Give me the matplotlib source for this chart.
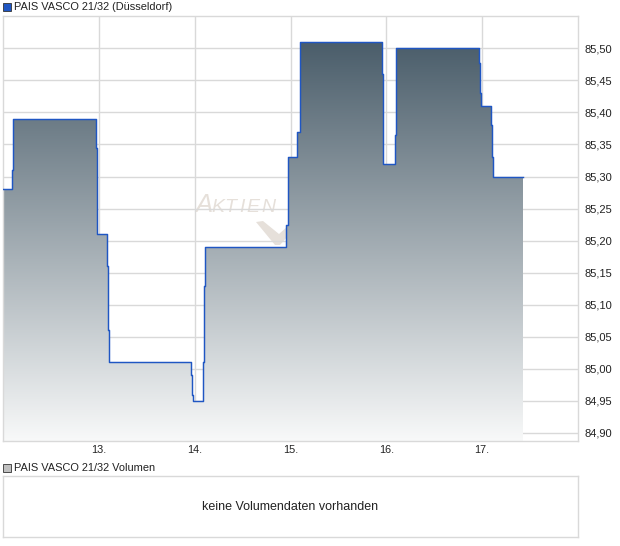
import matplotlib
matplotlib.use("Agg")
import matplotlib.pyplot as plt
import numpy as np
from matplotlib.colors import LinearSegmentedColormap
from matplotlib.patches import Rectangle, Polygon

plt.rcParams["font.family"] = ["Liberation Sans", "DejaVu Sans"]

# step points: time (day position) and price held from that time on
times = [12.000, 12.094, 12.104, 12.969, 12.979, 12.984, 13.083, 13.094, 13.104,
         13.958, 13.969, 13.979, 14.083, 14.094, 14.104, 14.958, 14.969, 14.979,
         15.073, 15.094, 15.104, 15.958, 15.969, 16.094, 16.100, 16.104, 16.969,
         16.979, 16.990, 17.094, 17.104, 17.115, 17.427]
prices = [85.28, 85.31, 85.39, 85.345, 85.255, 85.21, 85.16, 85.06, 85.01,
          84.99, 84.96, 84.95, 85.01, 85.13, 85.19, 85.225, 85.29, 85.33,
          85.37, 85.46, 85.51, 85.46, 85.32, 85.365, 85.455, 85.50, 85.477,
          85.43, 85.41, 85.38, 85.33, 85.30, 85.30]

day_ticks = [13, 14, 15, 16, 17]
day_labels = ["13.", "14.", "15.", "16.", "17."]
price_ticks = [84.90, 84.95, 85.00, 85.05, 85.10, 85.15, 85.20, 85.25,
               85.30, 85.35, 85.40, 85.45, 85.50]

title = "PAIS VASCO 21/32 (Düsseldorf)"
vol_title = "PAIS VASCO 21/32 Volumen"
vol_msg = "keine Volumendaten vorhanden"

W, H = 620, 546
fig = plt.figure(figsize=(W / 100, H / 100), dpi=100)


def px(x, y):
    # pixel position (from top-left) -> figure fraction
    return x / W, (H - y) / H


grid_c = "#d9d9d9"
line_c = "#1f56c3"
text_c = "#222222"
mark_c = "#e6e0da"

ax = fig.add_axes([3 / W, (H - 441) / H, 575 / W, 425 / H])
ax.patch.set_alpha(0)
ymin, ymax = 84.8875, 85.5504
ax.set_xlim(12, 18)
ax.set_ylim(ymin, ymax)

# gradient fill under the step line
xs = np.array(times)
ys = np.array(prices)
poly = ax.fill_between(xs, ys, ymin, step="post", color="none", lw=0)
cmap = LinearSegmentedColormap.from_list("g", ["#f8f9f9", "#4a5d6a"])
grad = np.linspace(0, 1, 256).reshape(-1, 1)
img = ax.imshow(grad, extent=[12, 18, ymin, max(prices)], origin="lower",
                aspect="auto", cmap=cmap, zorder=1)
img.set_clip_path(poly.get_paths()[0], transform=ax.transData)
ax.step(xs, ys, where="post", color=line_c, lw=1.05, zorder=3)

ax.set_xticks(day_ticks)
ax.set_xticklabels(day_labels)
ax.set_yticks(price_ticks)
ax.set_yticklabels([f"{v:.2f}".replace(".", ",") for v in price_ticks])
ax.yaxis.tick_right()
ax.tick_params(axis="both", length=0, colors=text_c)
ax.tick_params(axis="y", pad=5, labelsize=8)
ax.tick_params(axis="x", pad=3, labelsize=7.8)
ax.grid(True, color=grid_c, lw=1, zorder=0)
ax.set_axisbelow(True)
for s in ax.spines.values():
    s.set_color(grid_c)
    s.set_linewidth(1)

# watermark "AKTIEN" with a check mark, behind the chart
fig.text(*px(195, 212), "A", fontsize=18.5, style="italic", color=mark_c,
         va="baseline", zorder=-1)
for ch, xp in zip("KTIEN", [211, 224, 239, 246, 261]):
    fig.text(*px(xp, 212), ch, fontsize=14, style="italic", color=mark_c,
             va="baseline", zorder=-1)
check = [(256, 222), (263, 221), (279, 234), (288, 226), (288, 236),
         (280, 245), (275, 245)]
fig.patches.append(Polygon([px(*p) for p in check], closed=True,
                           transform=fig.transFigure, facecolor=mark_c,
                           edgecolor="none", zorder=-1))

# top legend
fig.patches.append(Rectangle(px(3, 11), 8 / W, 8 / H,
                             transform=fig.transFigure, facecolor=line_c,
                             edgecolor="#333333", lw=0.6))
fig.text(*px(14, 7), title, fontsize=7.9, color=text_c, va="center")

# volume panel
fig.patches.append(Rectangle(px(3, 472), 8 / W, 8 / H,
                             transform=fig.transFigure, facecolor="#c0c0c0",
                             edgecolor="#333333", lw=0.6))
fig.text(*px(14, 468), vol_title, fontsize=7.9, color=text_c, va="center")

vax = fig.add_axes([3 / W, 9 / H, 575 / W, 61 / H])
vax.set_xticks([])
vax.set_yticks([])
for s in vax.spines.values():
    s.set_color(grid_c)
    s.set_linewidth(1)
vax.text(0.5, 0.5, vol_msg, transform=vax.transAxes, ha="center", va="center",
         fontsize=9, color=text_c)

fig.savefig("out.png", dpi=100)
